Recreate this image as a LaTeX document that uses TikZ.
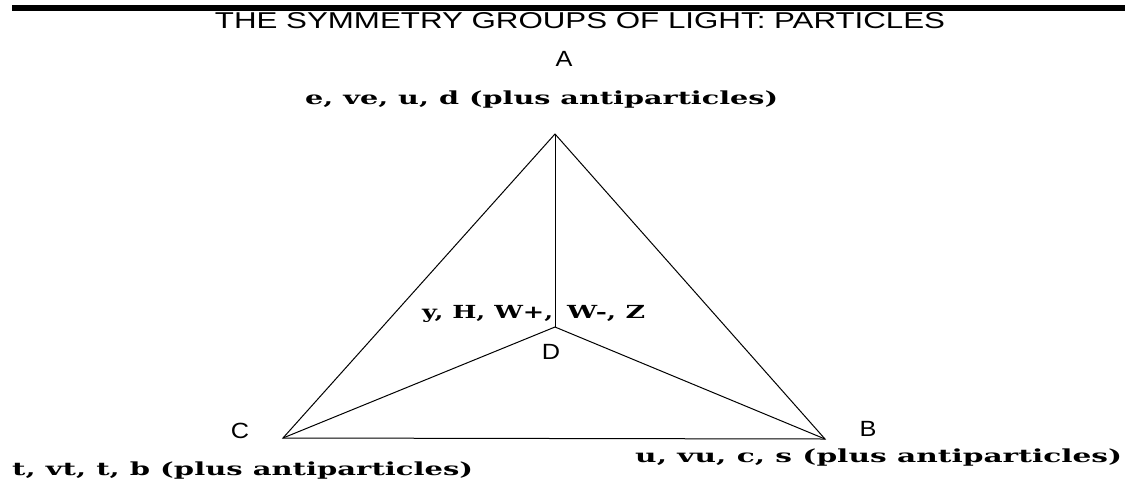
\documentclass[tikz,border=0pt]{standalone}
\usepackage{fontspec}
\usepackage{graphicx}
\setmainfont{DejaVu Serif}
\newfontfamily\titlefont{Liberation Sans}
\newcommand\labfont{\fontsize{18pt}{20pt}\selectfont\bfseries}
\newcommand\lab[2]{\resizebox{#1}{\height}{\labfont #2}}
\begin{document}
\begin{tikzpicture}[x=1pt,y=-1pt,
  edge/.style={draw=black,line width=1pt},
  vlet/.style={inner sep=0pt,font=\titlefont\fontsize{22pt}{24pt}\selectfont},
  plab/.style={inner sep=0pt,anchor=base west}]
\useasboundingbox (0,0) rectangle (1125,483);
\fill[white] (0,0) rectangle (1125,483);
\fill[black] (12,5) rectangle (1125,11);
\node[inner sep=0pt] (title) at (580,21) {\resizebox{730pt}{16pt}{\titlefont THE SYMMETRY GROUPS OF LIGHT: PARTICLES}};
\coordinate (A) at (555,134);
\coordinate (B) at (825,439);
\coordinate (C) at (283,438);
\coordinate (D) at (555,327);
\draw[edge] (A) -- (C) -- (B) -- cycle;
\draw[edge] (A) -- (D);
\draw[edge] (C) -- (D) -- (B);
\node[vlet] (la) at (564,59) {\scalebox{1.15}[1]{A}};
\node[vlet] (lb) at (868,429) {\scalebox{1.15}[1]{B}};
\node[vlet] (lc) at (240,431) {\scalebox{1.15}[1]{C}};
\node[vlet] (ld) at (551,352) {\scalebox{1.15}[1]{D}};
\node[plab] (ta) at (305,104) {\lab{473pt}{e, ve, u, d (plus antiparticles)}};
\node[plab] (tc) at (12,475) {\lab{461pt}{t, vt, t, b (plus antiparticles)}};
\node[plab] (tb) at (635,462) {\lab{487pt}{u, vu, c, s (plus antiparticles)}};
\node[plab] (td1) at (422,318) {\lab{131pt}{y, H, W+,}};
\node[plab] (td2) at (567,318) {\lab{78pt}{W-, Z}};
\end{tikzpicture}
\end{document}
